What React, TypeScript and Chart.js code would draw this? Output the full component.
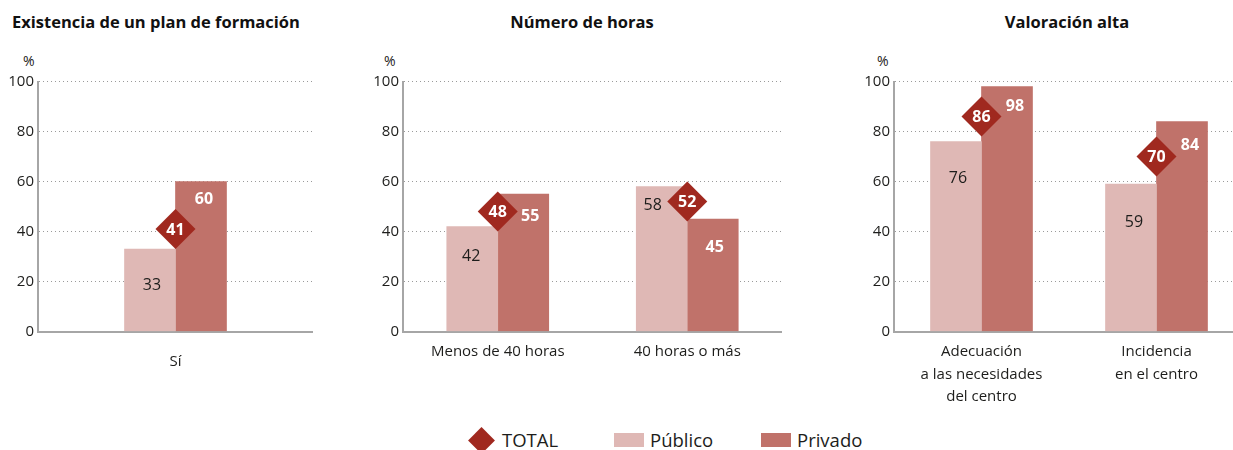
import React, { useEffect, useRef } from "react";
import { Chart, registerables } from "chart.js";

Chart.register(...registerables);

const FONT = "'Open Sans', 'Noto Sans', sans-serif";
const TEXT = "#1d1d1b";
const AXIS = "#a6a6a6";
const GRID = "#9a9a9a";
const DIAMOND = "#a0291f";
const PUB = "#dfb8b5";
const PRIV = "#c0726a";

// ---- data ----
const seriesNames = ["TOTAL", "Público", "Privado"];

const chart1Title = "Existencia de un plan de formación";
const chart1Categories = ["Sí"];
const chart1Total = [41];
const chart1Publico = [33];
const chart1Privado = [60];

const chart2Title = "Número de horas";
const chart2Categories = ["Menos de 40 horas", "40 horas o más"];
const chart2Total = [48, 52];
const chart2Publico = [42, 58];
const chart2Privado = [55, 45];

const chart3Title = "Valoración alta";
const chart3Categories = [
  ["Adecuación", "a las necesidades", "del centro"],
  ["Incidencia", "en el centro"],
];
const chart3Total = [86, 70];
const chart3Publico = [76, 59];
const chart3Privado = [98, 84];

const yMin = 0;
const yMax = 100;
const yStep = 20;

// ---- label placement (pixel nudges relative to bar top / bar centre) ----
const pubLabelNudge = [
  [[2, 36]],
  [[-1, 30], [-9, 19]],
  [[2, 37], [3, 38]],
];
const privLabelNudge = [
  [[3, 18]],
  [[7, 22], [2, 28]],
  [[8, 20], [8, 24]],
];

const CANVAS_H = 420;
const PLOT_TOP = 81.5;
const PLOT_BOTTOM = 331.5;
const Y_AXIS_W = 38;

const labelPlugin = {
  id: "valueLabels",
  afterDatasetsDraw(chart: any) {
    const ctx = chart.ctx;
    const idx = chart.options.plugins.valueLabels.panel;
    ctx.save();
    ctx.textAlign = "center";
    ctx.textBaseline = "middle";
    const mPub = chart.getDatasetMeta(1);
    mPub.data.forEach((el: any, j: number) => {
      const v = chart.data.datasets[1].data[j];
      const [dx, dy] = pubLabelNudge[idx][j];
      ctx.fillStyle = TEXT;
      ctx.font = `normal 16px ${FONT}`;
      ctx.fillText(String(v), el.x + dx, el.y + dy);
    });
    const mPriv = chart.getDatasetMeta(2);
    mPriv.data.forEach((el: any, j: number) => {
      const v = chart.data.datasets[2].data[j];
      const [dx, dy] = privLabelNudge[idx][j];
      ctx.fillStyle = "#ffffff";
      ctx.font = `bold 16px ${FONT}`;
      ctx.fillText(String(v), el.x + dx, el.y + dy);
    });
    const mTot = chart.getDatasetMeta(0);
    mTot.data.forEach((el: any, j: number) => {
      const v = chart.data.datasets[0].data[j];
      ctx.fillStyle = "#ffffff";
      ctx.font = `bold 16px ${FONT}`;
      ctx.fillText(String(v), el.x, el.y + 1);
    });
    ctx.restore();
  },
};

type PanelProps = {
  panel: number;
  left: number;
  width: number;
  labels: any[];
  total: number[];
  publico: number[];
  privado: number[];
  tickPad: number;
};

function Panel({ panel, left, width, labels, total, publico, privado, tickPad }: PanelProps) {
  const ref = useRef<HTMLCanvasElement>(null);
  useEffect(() => {
    const chart = new Chart(ref.current as HTMLCanvasElement, {
      type: "bar",
      data: {
        labels,
        datasets: [
          {
            type: "line",
            label: seriesNames[0],
            data: total,
            showLine: false,
            pointStyle: "rectRot",
            pointRadius: 20,
            pointHoverRadius: 20,
            pointBackgroundColor: DIAMOND,
            pointBorderColor: DIAMOND,
            pointBorderWidth: 0,
            backgroundColor: DIAMOND,
            borderColor: DIAMOND,
            order: 0,
          } as any,
          {
            type: "bar",
            label: seriesNames[1],
            data: publico,
            backgroundColor: PUB,
            barThickness: 51,
            order: 1,
          },
          {
            type: "bar",
            label: seriesNames[2],
            data: privado,
            backgroundColor: PRIV,
            barThickness: 51,
            order: 1,
          },
        ],
      },
      options: {
        responsive: false,
        animation: false,
        events: [],
        layout: { autoPadding: false, padding: { top: PLOT_TOP, left: 0, right: 0, bottom: 0 } },
        plugins: {
          legend: { display: false },
          tooltip: { enabled: false },
          valueLabels: { panel },
        } as any,
        scales: {
          x: {
            grid: { display: false, drawTicks: false },
            border: { display: true, color: AXIS, width: 2 },
            ticks: {
              font: { family: FONT, size: 15, lineHeight: 1.5 },
              color: TEXT,
              padding: tickPad,
              maxRotation: 0,
              autoSkip: false,
            },
            afterFit: (s: any) => {
              s.height = CANVAS_H - PLOT_BOTTOM;
            },
          },
          y: {
            min: yMin,
            max: yMax,
            ticks: {
              stepSize: yStep,
              font: { family: FONT, size: 15 },
              color: TEXT,
              padding: 4,
            },
            grid: { color: GRID, lineWidth: 1, drawTicks: false },
            border: { display: true, color: AXIS, width: 2, dash: [1, 3] },
            afterFit: (s: any) => {
              s.width = Y_AXIS_W;
            },
          },
        },
      } as any,
      plugins: [labelPlugin],
    });
    return () => chart.destroy();
  }, []);
  return (
    <canvas
      ref={ref}
      width={width}
      height={CANVAS_H}
      style={{ position: "absolute", left, top: 0 }}
    />
  );
}

const titleStyle: React.CSSProperties = {
  position: "absolute",
  top: 11,
  fontFamily: FONT,
  fontWeight: 700,
  fontSize: 16.5,
  color: "#111",
  whiteSpace: "nowrap",
  lineHeight: "22px",
};

const pctStyle: React.CSSProperties = {
  position: "absolute",
  top: 52,
  fontFamily: FONT,
  fontSize: 14,
  color: TEXT,
  lineHeight: "18px",
};

const legendText: React.CSSProperties = {
  position: "absolute",
  top: 428,
  fontFamily: FONT,
  fontSize: 18.5,
  color: TEXT,
  lineHeight: "24px",
};

const swatch: React.CSSProperties = {
  position: "absolute",
  top: 433,
  width: 30,
  height: 14,
};

export default function App() {
  return (
    <div
      style={{
        position: "fixed",
        left: 0,
        top: 0,
        width: 1233,
        height: 450,
        overflow: "hidden",
        background: "#fff",
      }}
    >
      <div style={{ ...titleStyle, left: 12 }}>{chart1Title}</div>
      <div style={{ ...titleStyle, left: 582, transform: "translateX(-50%)" }}>{chart2Title}</div>
      <div style={{ ...titleStyle, left: 1067, transform: "translateX(-50%)" }}>{chart3Title}</div>

      <div style={{ ...pctStyle, left: 23 }}>%</div>
      <div style={{ ...pctStyle, left: 384 }}>%</div>
      <div style={{ ...pctStyle, left: 877 }}>%</div>

      <Panel panel={0} left={0} width={313} labels={chart1Categories} total={chart1Total} publico={chart1Publico} privado={chart1Privado} tickPad={19} />
      <Panel panel={1} left={365} width={417} labels={chart2Categories} total={chart2Total} publico={chart2Publico} privado={chart2Privado} tickPad={9} />
      <Panel panel={2} left={856} width={388} labels={chart3Categories} total={chart3Total} publico={chart3Publico} privado={chart3Privado} tickPad={9} />

      <div
        style={{
          position: "absolute",
          left: 472,
          top: 431,
          width: 19,
          height: 19,
          background: DIAMOND,
          transform: "rotate(45deg)",
        }}
      />
      <span style={{ ...legendText, left: 502 }}>{seriesNames[0]}</span>
      <div style={{ ...swatch, left: 614, background: PUB }} />
      <span style={{ ...legendText, left: 650 }}>{seriesNames[1]}</span>
      <div style={{ ...swatch, left: 761, background: PRIV }} />
      <span style={{ ...legendText, left: 797 }}>{seriesNames[2]}</span>
    </div>
  );
}
